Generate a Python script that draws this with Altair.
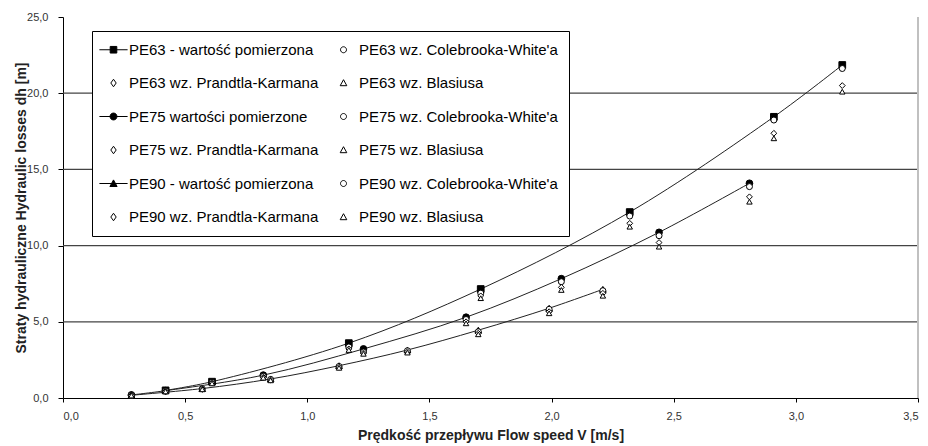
import altair as alt
import pandas as pd

# ---------------- data ----------------
x63 = [0.42, 0.61, 1.17, 1.71, 2.32, 2.91, 3.19]
m63 = [0.50, 1.07, 3.60, 7.15, 12.20, 18.45, 21.85]
cw63 = [0.48, 1.02, 3.35, 6.88, 11.94, 18.24, 21.62]
pk63 = [0.46, 0.98, 3.22, 6.70, 11.46, 17.37, 20.50]
bl63 = [0.45, 0.96, 3.15, 6.55, 11.24, 17.04, 20.10]

x75 = [0.28, 0.42, 0.82, 1.23, 1.65, 2.04, 2.44, 2.81]
m75 = [0.20, 0.48, 1.50, 3.22, 5.30, 7.83, 10.87, 14.09]
cw75 = [0.19, 0.46, 1.42, 3.02, 5.15, 7.63, 10.65, 13.87]
pk75 = [0.18, 0.44, 1.36, 2.95, 5.00, 7.26, 10.20, 13.20]
bl75 = [0.18, 0.43, 1.33, 2.90, 4.90, 7.09, 9.93, 12.88]

x90 = [0.28, 0.57, 0.85, 1.13, 1.41, 1.70, 1.99, 2.21]
m90 = [0.18, 0.62, 1.25, 2.12, 3.15, 4.45, 5.89, 7.13]
cw90 = [0.17, 0.60, 1.22, 2.07, 3.10, 4.35, 5.82, 7.04]
pk90 = [0.16, 0.58, 1.18, 2.02, 3.03, 4.25, 5.66, 6.87]
bl90 = [0.16, 0.57, 1.16, 1.98, 2.98, 4.18, 5.56, 6.71]

labels = [
    "PE63 - wartość pomierzona", "PE63 wz. Colebrooka-White'a",
    "PE63 wz. Prandtla-Karmana", "PE63 wz. Blasiusa",
    "PE75 wartości pomierzone", "PE75 wz. Colebrooka-White'a",
    "PE75 wz. Prandtla-Karmana", "PE75 wz. Blasiusa",
    "PE90 - wartość pomierzona", "PE90 wz. Colebrooka-White'a",
    "PE90 wz. Prandtla-Karmana", "PE90 wz. Blasiusa",
]
measured_labels = [labels[0], labels[4], labels[8]]

x_ticks = [0.0, 0.5, 1.0, 1.5, 2.0, 2.5, 3.0, 3.5]
y_ticks = [0, 5, 10, 15, 20, 25]
grid_levels = [5, 10, 15, 20]

# ---------------- tables ----------------
groups = [
    (x63, [m63, cw63, pk63, bl63], labels[0:4]),
    (x75, [m75, cw75, pk75, bl75], labels[4:8]),
    (x90, [m90, cw90, pk90, bl90], labels[8:12]),
]
rows = []
for xs, series, labs in groups:
    for ys, lab in zip(series, labs):
        for xv, yv in zip(xs, ys):
            rows.append({"x": xv, "y": yv, "label": lab})
pts = pd.DataFrame(rows)
meas = pts[pts["label"].isin(measured_labels)]
grid_df = pd.DataFrame({"level": grid_levels})

# ---------------- styles ----------------
FONT = "Liberation Sans"
point_shapes = ["square", "circle", "diamond", "triangle-up",
                "circle", "circle", "diamond", "triangle-up",
                "triangle-up", "circle", "diamond", "triangle-up"]
point_fills = ["black", "white", "white", "white"] * 3
point_strokes = ["black"] * 12
point_sizes = [45, 36, 34, 30, 45, 36, 34, 30, 45, 36, 34, 30]

ln = "M-4.7,0H4.7"
sq = "M-1.1,-1.1H1.1V1.1H-1.1Z"
circ = "M1,0A1,1 0 1 1 -1,0A1,1 0 1 1 1,0Z"
fcirc = "M1.15,0A1.15,1.15 0 1 1 -1.15,0A1.15,1.15 0 1 1 1.15,0Z"
dia = "M0,-1.25L0.9,0L0,1.25L-0.9,0Z"
tri = "M0,-1.1L1.1,0.9L-1.1,0.9Z"
ftri = "M0,-1.2L1.2,1L-1.2,1Z"
legend_paths = [ln + sq, circ, dia, tri,
                ln + fcirc, circ, dia, tri,
                ln + ftri, circ, dia, tri]

comma = "replace(format(datum.value, '.1f'), '.', ',')"


def X(field="x"):
    return alt.X(f"{field}:Q",
                 scale=alt.Scale(domain=[0, 3.5], nice=False, zero=False),
                 axis=alt.Axis(values=x_ticks, labelExpr=comma,
                               title="Prędkość przepływu Flow speed V [m/s]",
                               grid=False, domainColor="black", tickColor="black",
                               tickSize=4, labelPadding=8, titlePadding=7,
                               labelFont=FONT, labelFontSize=11, labelColor="#333",
                               titleFont=FONT, titleFontSize=14, titleFontWeight="bold",
                               titleColor="#222"))


def Y(field="y"):
    return alt.Y(f"{field}:Q",
                 scale=alt.Scale(domain=[0, 25], nice=False),
                 axis=alt.Axis(values=y_ticks, labelExpr=comma,
                               title="Straty hydrauliczne Hydraulic losses dh [m]",
                               grid=False, domainColor="black", tickColor="black",
                               tickSize=5, labelPadding=10, titlePadding=-2,
                               labelFont=FONT, labelFontSize=11, labelColor="#333",
                               titleFont=FONT, titleFontSize=14, titleFontWeight="bold",
                               titleColor="#222"))


grid = alt.Chart(grid_df).mark_rule(color="#444", strokeWidth=1.2).encode(y=Y("level"))

border = alt.Chart(grid_df).mark_rule(color="#c0c0c0", strokeWidth=2).encode(
    x=alt.datum(3.5), y=alt.datum(0), y2=alt.datum(25)
)

lines = alt.Chart(meas).mark_line(
    interpolate="catmull-rom", color="#222", strokeWidth=1
).encode(x=X(), y=Y(), detail="label:N")

point_layers = []
for lab, shp, fl, sz in zip(labels, point_shapes, point_fills, point_sizes):
    point_layers.append(
        alt.Chart(pts).transform_filter(alt.datum.label == lab).mark_point(
            shape=shp, filled=True, fill=fl, stroke="black", strokeWidth=1,
            size=sz, opacity=1
        ).encode(x=X(), y=Y())
    )

leg = alt.Legend(
    title=None, orient="none", legendX=29, legendY=14, columns=2,
    direction="horizontal",
    symbolSize=36, symbolStrokeWidth=1,
    symbolOpacity=1, symbolOffset=3, labelOffset=8, columnPadding=14,
    rowPadding=17.5, padding=11, strokeColor="black", fillColor="white",
    labelFont=FONT, labelFontSize=15, labelColor="black", labelLimit=400,
)

legend_layer = alt.Chart(pts).transform_calculate(nx="null").mark_point(
    filled=True, strokeWidth=1, clip=True, opacity=1
).encode(
    x=X("nx"), y=Y(),
    shape=alt.Shape("label:N", scale=alt.Scale(domain=labels, range=legend_paths), legend=leg),
    fill=alt.Fill("label:N", scale=alt.Scale(domain=labels, range=point_fills), legend=leg),
    stroke=alt.Stroke("label:N", scale=alt.Scale(domain=labels, range=point_strokes), legend=leg),
)

chart = alt.layer(grid, border, lines, *point_layers, legend_layer).properties(
    width=855, height=381,
    autosize=alt.AutoSizeParams(type="none"),
    padding={"left": 55, "top": 9, "right": 2, "bottom": 48},
    background="white",
).configure_view(stroke=None)

chart.save("out.html", embed_options={"renderer": "svg", "actions": False})
